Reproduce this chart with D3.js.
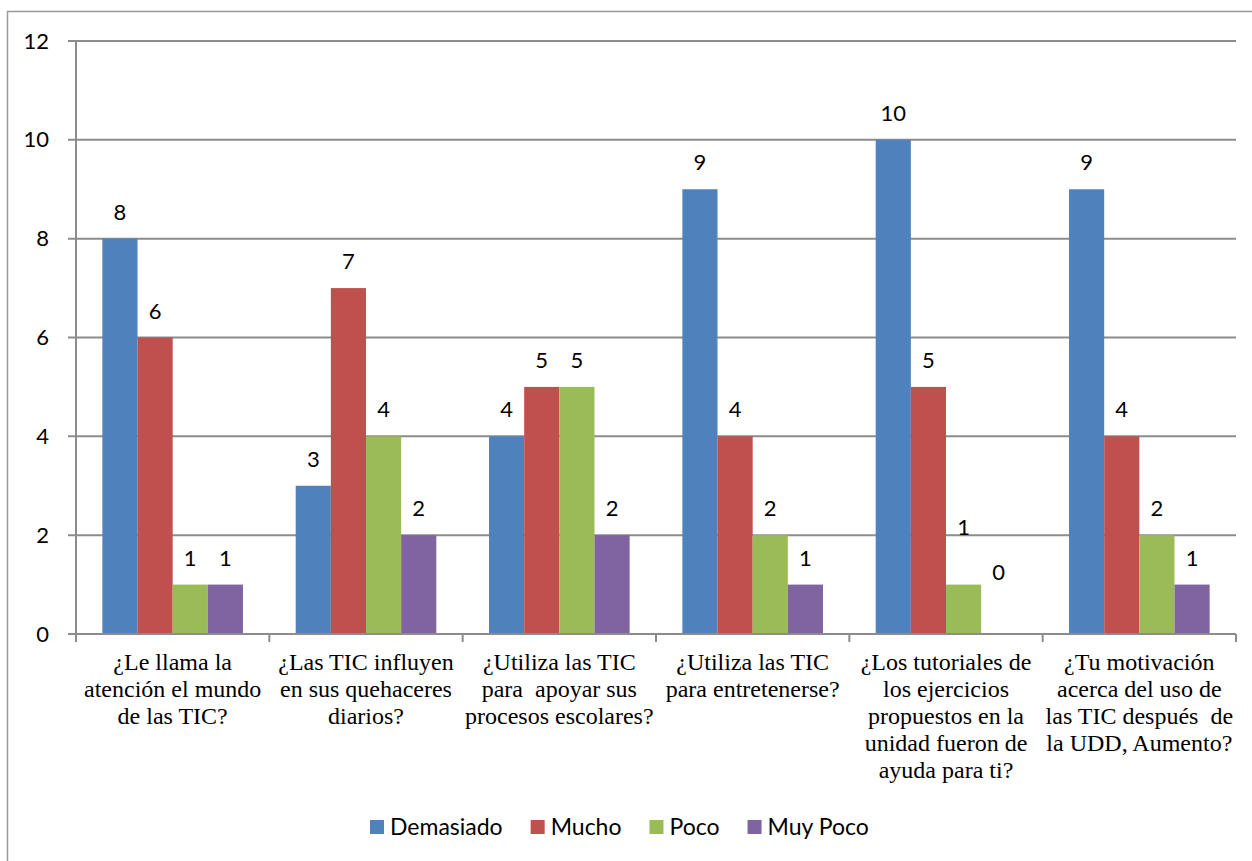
<!DOCTYPE html>
<html>
<head>
<meta charset="utf-8">
<script src="https://cdn.jsdelivr.net/npm/d3@7"></script>
<style>
body { margin: 0; background: #fff; }
text { white-space: pre; }
</style>
</head>
<body>
<div id="chart"></div>
<script>
// category labels, already broken into lines as in the original
const categoryLines = [
    ["¿Le llama la", "atención el mundo", "de las TIC?"],
    ["¿Las TIC influyen", "en sus quehaceres", "diarios?"],
    ["¿Utiliza las TIC", "para  apoyar sus", "procesos escolares?"],
    ["¿Utiliza las TIC", "para entretenerse?"],
    ["¿Los tutoriales de", "los ejercicios", "propuestos en la", "unidad fueron de", "ayuda para ti?"],
    ["¿Tu motivación", "acerca del uso de", "las TIC después  de", "la UDD, Aumento?"]
];
const categories = categoryLines.map(l => l.join(" "));

const seriesNames = ["Demasiado", "Mucho", "Poco", "Muy Poco"];
const demasiado = [8, 3, 4, 9, 10, 9];
const mucho     = [6, 7, 5, 4, 5, 4];
const poco      = [1, 4, 5, 2, 1, 2];
const muyPoco   = [1, 2, 2, 1, 0, 1];
const seriesValues = [demasiado, mucho, poco, muyPoco];

const yTicks = [0, 2, 4, 6, 8, 10, 12];
const colors = ["#4F81BD", "#C0504D", "#9BBB59", "#8064A2"];

// two labels were dragged upward by hand in the original (category-series : px)
const labelLift = { "4-2": 31, "4-3": 35 };

const width = 1252, height = 861;
const plot = { left: 76, right: 1236, top: 41, bottom: 634 };
const gridColor = "#8c8c8c";
const sansFont = "Lato, 'Liberation Sans', sans-serif";

const svg = d3.select("#chart").append("svg")
    .attr("width", width)
    .attr("height", height);

// outer chart frame (runs off the right/bottom edge)
svg.append("rect")
    .attr("x", 7.5).attr("y", 11.5)
    .attr("width", 1300).attr("height", 900)
    .attr("fill", "none")
    .attr("stroke", "#999")
    .attr("stroke-width", 1.5);

const x = d3.scaleBand()
    .domain(categories)
    .range([plot.left, plot.right]);

const xInner = d3.scaleBand()
    .domain(seriesNames)
    .range([0, x.bandwidth()])
    .paddingOuter(0.75);

const y = d3.scaleLinear()
    .domain([0, 12])
    .range([plot.bottom, plot.top]);

// gridlines, including the short tick stubs left of the axis
svg.append("g")
    .selectAll("line")
    .data(yTicks)
    .enter()
    .append("line")
    .attr("x1", plot.left - 8)
    .attr("x2", plot.right)
    .attr("y1", d => y(d))
    .attr("y2", d => y(d))
    .attr("stroke", gridColor)
    .attr("stroke-width", 2);

// y axis labels
const yAxis = svg.append("g")
    .attr("transform", `translate(${plot.left - 27},0)`)
    .call(d3.axisLeft(y).tickValues(yTicks).tickSize(0).tickPadding(0));
yAxis.select(".domain").remove();
yAxis.selectAll("text")
    .attr("font-family", sansFont)
    .attr("font-size", 22)
    .attr("fill", "#000");

// bars
const rows = [];
categories.forEach((c, i) => {
    seriesNames.forEach((s, j) => {
        rows.push({ cat: c, ci: i, series: s, si: j, value: seriesValues[j][i] });
    });
});

svg.append("g")
    .selectAll("rect")
    .data(rows)
    .enter()
    .append("rect")
    .attr("x", d => x(d.cat) + xInner(d.series))
    .attr("y", d => y(d.value))
    .attr("width", xInner.bandwidth())
    .attr("height", d => y(0) - y(d.value))
    .attr("fill", d => colors[d.si]);

// axes lines on top of bars
svg.append("line")
    .attr("x1", plot.left).attr("x2", plot.left)
    .attr("y1", plot.top).attr("y2", plot.bottom + 8)
    .attr("stroke", gridColor).attr("stroke-width", 2);

svg.append("line")
    .attr("x1", plot.left - 8).attr("x2", plot.right)
    .attr("y1", plot.bottom).attr("y2", plot.bottom)
    .attr("stroke", gridColor).attr("stroke-width", 2);

const xTickPos = categories.map(c => x(c)).concat([plot.right]);
svg.append("g")
    .selectAll("line")
    .data(xTickPos)
    .enter()
    .append("line")
    .attr("x1", d => d).attr("x2", d => d)
    .attr("y1", plot.bottom).attr("y2", plot.bottom + 8)
    .attr("stroke", gridColor).attr("stroke-width", 2);

// data labels
svg.append("g")
    .selectAll("text")
    .data(rows)
    .enter()
    .append("text")
    .attr("x", d => x(d.cat) + xInner(d.series) + xInner.bandwidth() / 2)
    .attr("y", d => y(d.value) - 19 - (labelLift[d.ci + "-" + d.si] || 0))
    .attr("text-anchor", "middle")
    .attr("font-family", sansFont)
    .attr("font-size", 22)
    .attr("fill", "#000")
    .text(d => d.value);

// category labels
svg.append("g")
    .selectAll("text")
    .data(categories)
    .enter()
    .append("text")
    .attr("text-anchor", "middle")
    .attr("font-family", "'Liberation Serif', 'Times New Roman', serif")
    .attr("font-size", 24)
    .attr("fill", "#000")
    .each(function(c, i) {
        const cx = x(c) + x.bandwidth() / 2;
        d3.select(this).selectAll("tspan")
            .data(categoryLines[i])
            .enter()
            .append("tspan")
            .attr("x", cx)
            .attr("y", (line, k) => 670 + k * 27)
            .text(line => line);
    });

// legend
const legend = svg.append("g");
let lx = 370;
seriesNames.forEach((s, j) => {
    legend.append("rect")
        .attr("x", lx).attr("y", 820)
        .attr("width", 14).attr("height", 14)
        .attr("fill", colors[j]);
    const t = legend.append("text")
        .attr("x", lx + 20).attr("y", 835)
        .attr("font-family", sansFont)
        .attr("font-size", 23)
        .attr("fill", "#000")
        .text(s);
    lx += 20 + t.node().getComputedTextLength() + 28;
});
</script>
</body>
</html>
